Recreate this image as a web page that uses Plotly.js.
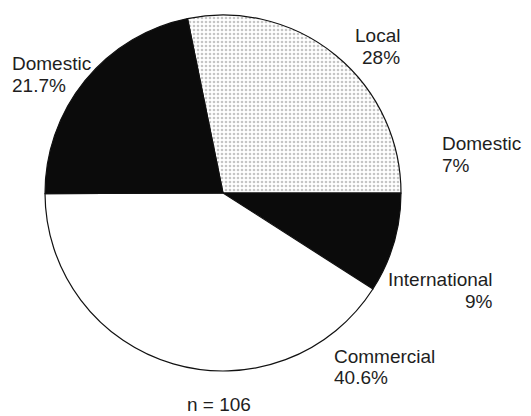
<!DOCTYPE html>
<html>
<head>
<meta charset="utf-8">
<script src="https://cdn.plot.ly/plotly-3.0.1.min.js"></script>
<style>html,body{margin:0;padding:0;background:#fff;}#chart{width:531px;height:416px;}</style>
</head>
<body>
<div id="chart"></div>
<script>
// Slice data (clockwise, starting from the Local slice)
const categories = ['Local', 'International', 'Commercial', 'Domestic'];
const values = [28, 9, 40.6, 21.7];
const sliceColors = ['#ffffff', '#0b0b0b', '#ffffff', '#0b0b0b'];
const slicePatterns = ['.', '', '', ''];

// Text labels as printed on the chart
const labelNames = ['Local', 'Domestic', 'International', 'Commercial', 'Domestic'];
const labelPcts = ['28%', '7%', '9%', '40.6%', '21.7%'];
const sampleNote = 'n = 106';

// label placement (pixel anchors) kept separate from data
const W = 531, H = 416;
const labelPos = [
  {x: 402, y1: 35, y2: 57, anchor: 'right'},
  {x: 440, y1: 143, y2: 165, anchor: 'left'},
  {x: 495, y1: 279, y2: 301, anchor: 'right'},
  {x: 332, y1: 356, y2: 377, anchor: 'left'},
  {x: 10, y1: 63, y2: 85, anchor: 'left'}
];

const font = {family: 'Liberation Sans, Arial, sans-serif', size: 19, color: '#1e1e1e'};
const annotations = [];
labelNames.forEach((name, i) => {
  const p = labelPos[i];
  annotations.push({text: name, xref: 'paper', yref: 'paper', x: p.x / W, y: 1 - p.y1 / H,
    xanchor: p.anchor, yanchor: 'middle', showarrow: false, font: font, align: p.anchor});
  annotations.push({text: labelPcts[i], xref: 'paper', yref: 'paper', x: p.x / W, y: 1 - p.y2 / H,
    xanchor: p.anchor, yanchor: 'middle', showarrow: false, font: font, align: p.anchor});
});
annotations.push({text: sampleNote, xref: 'paper', yref: 'paper', x: 219 / W, y: 0,
  xanchor: 'center', yanchor: 'bottom', borderpad: 0, showarrow: false, font: font});

const cx = 223, cy = 193, r = 178;
const trace = {
  type: 'pie',
  labels: categories,
  values: values,
  sort: false,
  direction: 'clockwise',
  rotation: -11.5,
  textinfo: 'none',
  hoverinfo: 'label+value',
  marker: {
    colors: sliceColors,
    pattern: {shape: slicePatterns, fgcolor: '#8c8c8c', bgcolor: '#ffffff', size: 4, solidity: 0.35, fillmode: 'overlay'},
    line: {color: '#111111', width: 1.2}
  },
  domain: {x: [(cx - r) / W, (cx + r) / W], y: [1 - (cy + r) / H, 1 - (cy - r) / H]},
  showlegend: false
};

Plotly.newPlot('chart', [trace], {
  width: W, height: H,
  margin: {l: 0, r: 0, t: 0, b: 0},
  paper_bgcolor: '#ffffff',
  showlegend: false,
  annotations: annotations
}, {staticPlot: true});
</script>
</body>
</html>
